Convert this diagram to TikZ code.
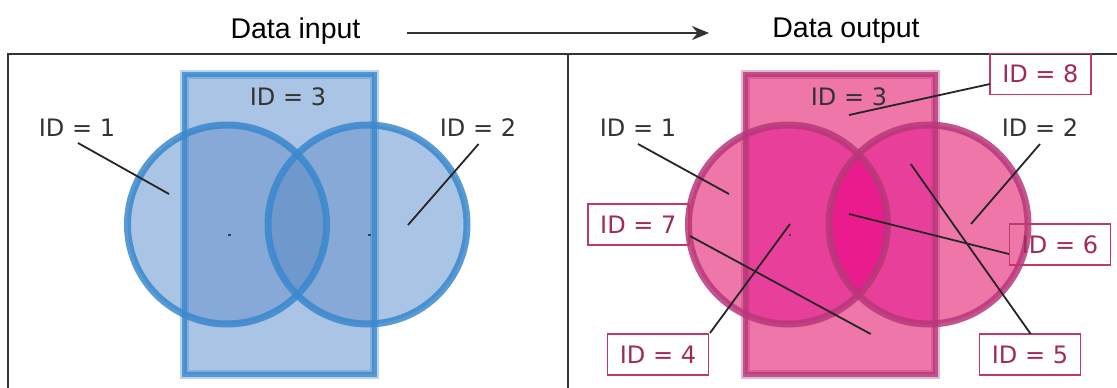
\documentclass[tikz,border=0pt]{standalone}
\usepackage{fontspec}
\setmainfont{DejaVu Sans}
\newfontfamily\titlefont{Liberation Sans}
\usetikzlibrary{arrows.meta}
\definecolor{blueA}{HTML}{A9C4E4}
\definecolor{blueB}{HTML}{86A9D7}
\definecolor{blueC}{HTML}{6F99CD}
\definecolor{blueS}{HTML}{3A88CD}
\definecolor{pinkA}{HTML}{EF76A9}
\definecolor{pinkB}{HTML}{E8409A}
\definecolor{pinkC}{HTML}{EA1C8D}
\definecolor{pinkS}{HTML}{B8377A}
\definecolor{labtxt}{HTML}{333333}
\definecolor{boxline}{HTML}{C3386A}
\definecolor{boxtxt}{HTML}{A02A5C}
\newcommand{\drawvenn}[4]{%
  \fill[#1] (184,74) rectangle (374,374);
  \fill[#1] (227,224.5) circle [radius=99.5pt];
  \fill[#1] (367.5,224.5) circle [radius=99.5pt];
  \begin{scope}
    \clip (184,74) rectangle (374,374);
    \fill[#2] (227,224.5) circle [radius=99.5pt];
    \fill[#2] (367.5,224.5) circle [radius=99.5pt];
  \end{scope}
  \begin{scope}
    \clip (227,224.5) circle [radius=99.5pt];
    \fill[#3] (367.5,224.5) circle [radius=99.5pt];
  \end{scope}
  \draw[#4, line width=9pt, opacity=0.35] (184,74) rectangle (374,374);
  \draw[#4, line width=5pt, opacity=0.8] (184,74) rectangle (374,374);
  \draw[#4, line width=7pt, opacity=0.85] (227,224.5) circle [radius=99.5pt];
  \draw[#4, line width=7pt, opacity=0.85] (367.5,224.5) circle [radius=99.5pt];
}
\begin{document}
\begin{tikzpicture}[x=1pt,y=-1pt,
  lab/.style={font=\fontsize{24}{28}\selectfont, text=labtxt, inner sep=0pt},
  boxlab/.style={font=\fontsize{24}{28}\selectfont, text=boxtxt, draw=boxline, line width=1.8pt,
    minimum width=101pt, minimum height=41pt, inner sep=0pt},
  leader/.style={draw=black!85, line width=1.8pt},
  frame/.style={draw=black!80, line width=2pt},
  ttl/.style={font=\titlefont\fontsize{28.5}{32}\selectfont, text=black, anchor=base, inner sep=0pt},
  dot/.style={fill=black!75}]
\useasboundingbox (0,0) rectangle (1117,388);
% frame
\draw[frame] (8,388) -- (8,54) -- (1117,54);
\draw[frame] (568,54) -- (568,388);
% titles
\node[ttl] (tin) at (295.5,38) {Data input};
\node[ttl] (tout) at (846,37) {Data output};
\coordinate (as) at (407,33);
\coordinate (ae) at (709,33);
\draw[draw=black!80, line width=2pt, -{Stealth[length=17pt,width=14pt]}] (as) -- (ae);
% left panel
\drawvenn{blueA}{blueB}{blueC}{blueS}
\fill[dot] (228,234) rectangle (231,236);
\fill[dot] (368,234) rectangle (371,236);
\node[lab] (l1) at (77,128) {ID = 1};
\node[lab] (l2) at (478,128) {ID = 2};
\node[lab] (l3) at (288,97) {ID = 3};
\coordinate (l1a) at (78,143); \coordinate (l1b) at (169,194);
\coordinate (l2a) at (478.6,144); \coordinate (l2b) at (408,225);
\draw[leader] (l1a) -- (l1b);
\draw[leader] (l2a) -- (l2b);
% right panel
\begin{scope}[xshift=561pt]
\drawvenn{pinkA}{pinkB}{pinkC}{pinkS}
\end{scope}
\fill[dot] (789,234) rectangle (791,236);
\node[lab] (r1) at (638,128) {ID = 1};
\node[lab] (r2) at (1040,128) {ID = 2};
\node[lab] (r3) at (849,97) {ID = 3};
\node[boxlab] (r8) at (1040.4,74) {ID = 8};
\node[boxlab] (r7) at (638.3,224.5) {ID = 7};
\node[boxlab] (r4) at (658,354.5) {ID = 4};
\node[boxlab] (r5) at (1030,354.5) {ID = 5};
\node[boxlab] (r6) at (1060,244.5) {ID = 6};
\coordinate (r1a) at (638,144); \coordinate (r1b) at (729,194);
\coordinate (r2a) at (1040,144); \coordinate (r2b) at (971,224);
\coordinate (r8a) at (990,84); \coordinate (r8b) at (849,115);
\coordinate (r7a) at (690,236); \coordinate (r7b) at (870.7,334);
\coordinate (r4a) at (710,333); \coordinate (r4b) at (790,224);
\coordinate (r5a) at (1030.7,334); \coordinate (r5b) at (910.7,164);
\coordinate (r6a) at (1009,254); \coordinate (r6b) at (849,214);
\draw[leader] (r1a) -- (r1b);
\draw[leader] (r2a) -- (r2b);
\draw[leader] (r8a) -- (r8b);
\draw[leader] (r7a) -- (r7b);
\draw[leader] (r4a) -- (r4b);
\draw[leader] (r5a) -- (r5b);
\draw[leader] (r6a) -- (r6b);
\end{tikzpicture}
\end{document}
